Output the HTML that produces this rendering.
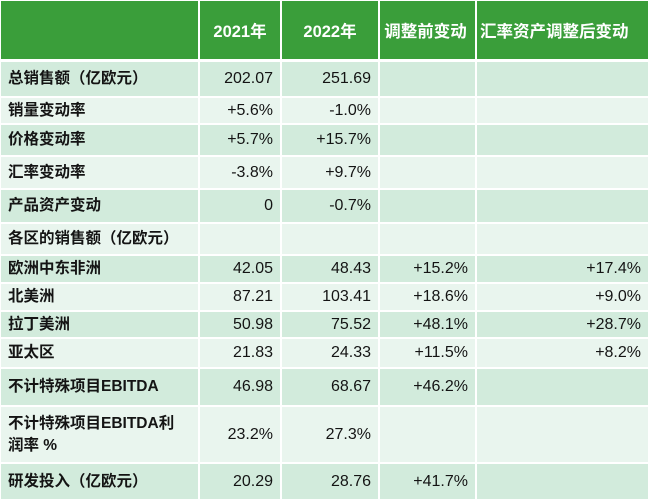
<!DOCTYPE html>
<html><head><meta charset="utf-8"><style>
html,body{margin:0;padding:0;background:#fff;}
body{width:650px;height:499px;position:relative;overflow:hidden;font-family:"Liberation Sans","Noto Sans CJK SC",sans-serif;color:#141414;}
.c{position:absolute;display:flex;align-items:center;box-sizing:border-box;}
.h{background:#3a9e3a;color:#fff;font-weight:bold;font-size:16.5px;justify-content:center;}
.d{background:#d2ebdc;}
.l{background:#e9f5ee;}
.k{font-weight:bold;font-size:15.5px;padding-left:7px;line-height:22px;}
.n{font-size:16px;justify-content:flex-end;padding-right:7px;}
</style></head><body>
<!-- header -->
<div class="c h" style="left:1px;top:1px;width:197px;height:58px;"></div>
<div class="c h" style="left:200px;top:1px;width:80px;height:58px;">2021年</div>
<div class="c h" style="left:282px;top:1px;width:96px;height:58px;">2022年</div>
<div class="c h" style="left:380px;top:1px;width:95px;height:58px;padding-right:4px;">调整前变动</div>
<div class="c h" style="left:477px;top:1px;width:171px;height:58px;justify-content:flex-start;padding-left:3px;">汇率资产调整后变动</div>

<!-- r1 -->
<div class="c d k" style="left:1px;top:62px;width:197px;height:34px;">总销售额（亿欧元）</div>
<div class="c d n" style="left:200px;top:62px;width:80px;height:34px;">202.07</div>
<div class="c d n" style="left:282px;top:62px;width:96px;height:34px;">251.69</div>
<div class="c d n" style="left:380px;top:62px;width:95px;height:34px;"></div>
<div class="c d n" style="left:477px;top:62px;width:171px;height:34px;"></div>
<!-- r2 -->
<div class="c l k" style="left:1px;top:98px;width:197px;height:25px;">销量变动率</div>
<div class="c l n" style="left:200px;top:98px;width:80px;height:25px;">+5.6%</div>
<div class="c l n" style="left:282px;top:98px;width:96px;height:25px;">-1.0%</div>
<div class="c l n" style="left:380px;top:98px;width:95px;height:25px;"></div>
<div class="c l n" style="left:477px;top:98px;width:171px;height:25px;"></div>
<!-- r3 -->
<div class="c d k" style="left:1px;top:125px;width:197px;height:30px;">价格变动率</div>
<div class="c d n" style="left:200px;top:125px;width:80px;height:30px;">+5.7%</div>
<div class="c d n" style="left:282px;top:125px;width:96px;height:30px;">+15.7%</div>
<div class="c d n" style="left:380px;top:125px;width:95px;height:30px;"></div>
<div class="c d n" style="left:477px;top:125px;width:171px;height:30px;"></div>
<!-- r4 -->
<div class="c l k" style="left:1px;top:157px;width:197px;height:31px;">汇率变动率</div>
<div class="c l n" style="left:200px;top:157px;width:80px;height:31px;">-3.8%</div>
<div class="c l n" style="left:282px;top:157px;width:96px;height:31px;">+9.7%</div>
<div class="c l n" style="left:380px;top:157px;width:95px;height:31px;"></div>
<div class="c l n" style="left:477px;top:157px;width:171px;height:31px;"></div>
<!-- r5 -->
<div class="c d k" style="left:1px;top:190px;width:197px;height:32px;">产品资产变动</div>
<div class="c d n" style="left:200px;top:190px;width:80px;height:32px;">0</div>
<div class="c d n" style="left:282px;top:190px;width:96px;height:32px;">-0.7%</div>
<div class="c d n" style="left:380px;top:190px;width:95px;height:32px;"></div>
<div class="c d n" style="left:477px;top:190px;width:171px;height:32px;"></div>
<!-- r6 -->
<div class="c l k" style="left:1px;top:224px;width:197px;height:30px;">各区的销售额（亿欧元）</div>
<div class="c l n" style="left:200px;top:224px;width:80px;height:30px;"></div>
<div class="c l n" style="left:282px;top:224px;width:96px;height:30px;"></div>
<div class="c l n" style="left:380px;top:224px;width:95px;height:30px;"></div>
<div class="c l n" style="left:477px;top:224px;width:171px;height:30px;"></div>
<!-- r7 -->
<div class="c d k" style="left:1px;top:256px;width:197px;height:26px;">欧洲中东非洲</div>
<div class="c d n" style="left:200px;top:256px;width:80px;height:26px;">42.05</div>
<div class="c d n" style="left:282px;top:256px;width:96px;height:26px;">48.43</div>
<div class="c d n" style="left:380px;top:256px;width:95px;height:26px;">+15.2%</div>
<div class="c d n" style="left:477px;top:256px;width:171px;height:26px;">+17.4%</div>
<!-- r8 -->
<div class="c l k" style="left:1px;top:284px;width:197px;height:26px;">北美洲</div>
<div class="c l n" style="left:200px;top:284px;width:80px;height:26px;">87.21</div>
<div class="c l n" style="left:282px;top:284px;width:96px;height:26px;">103.41</div>
<div class="c l n" style="left:380px;top:284px;width:95px;height:26px;">+18.6%</div>
<div class="c l n" style="left:477px;top:284px;width:171px;height:26px;">+9.0%</div>
<!-- r9 -->
<div class="c d k" style="left:1px;top:312px;width:197px;height:25px;">拉丁美洲</div>
<div class="c d n" style="left:200px;top:312px;width:80px;height:25px;">50.98</div>
<div class="c d n" style="left:282px;top:312px;width:96px;height:25px;">75.52</div>
<div class="c d n" style="left:380px;top:312px;width:95px;height:25px;">+48.1%</div>
<div class="c d n" style="left:477px;top:312px;width:171px;height:25px;">+28.7%</div>
<!-- r10 -->
<div class="c l k" style="left:1px;top:339px;width:197px;height:28px;">亚太区</div>
<div class="c l n" style="left:200px;top:339px;width:80px;height:28px;">21.83</div>
<div class="c l n" style="left:282px;top:339px;width:96px;height:28px;">24.33</div>
<div class="c l n" style="left:380px;top:339px;width:95px;height:28px;">+11.5%</div>
<div class="c l n" style="left:477px;top:339px;width:171px;height:28px;">+8.2%</div>
<!-- r11 -->
<div class="c d k" style="left:1px;top:369px;width:197px;height:36px;">不计特殊项目EBITDA</div>
<div class="c d n" style="left:200px;top:369px;width:80px;height:36px;">46.98</div>
<div class="c d n" style="left:282px;top:369px;width:96px;height:36px;">68.67</div>
<div class="c d n" style="left:380px;top:369px;width:95px;height:36px;">+46.2%</div>
<div class="c d n" style="left:477px;top:369px;width:171px;height:36px;"></div>
<!-- r12 -->
<div class="c l k" style="left:1px;top:407px;width:197px;height:55px;">不计特殊项目EBITDA利<br>润率 %</div>
<div class="c l n" style="left:200px;top:407px;width:80px;height:55px;">23.2%</div>
<div class="c l n" style="left:282px;top:407px;width:96px;height:55px;">27.3%</div>
<div class="c l n" style="left:380px;top:407px;width:95px;height:55px;"></div>
<div class="c l n" style="left:477px;top:407px;width:171px;height:55px;"></div>
<!-- r13 -->
<div class="c d k" style="left:1px;top:464px;width:197px;height:35px;">研发投入（亿欧元）</div>
<div class="c d n" style="left:200px;top:464px;width:80px;height:35px;">20.29</div>
<div class="c d n" style="left:282px;top:464px;width:96px;height:35px;">28.76</div>
<div class="c d n" style="left:380px;top:464px;width:95px;height:35px;">+41.7%</div>
<div class="c d n" style="left:477px;top:464px;width:171px;height:35px;"></div>
</body></html>
